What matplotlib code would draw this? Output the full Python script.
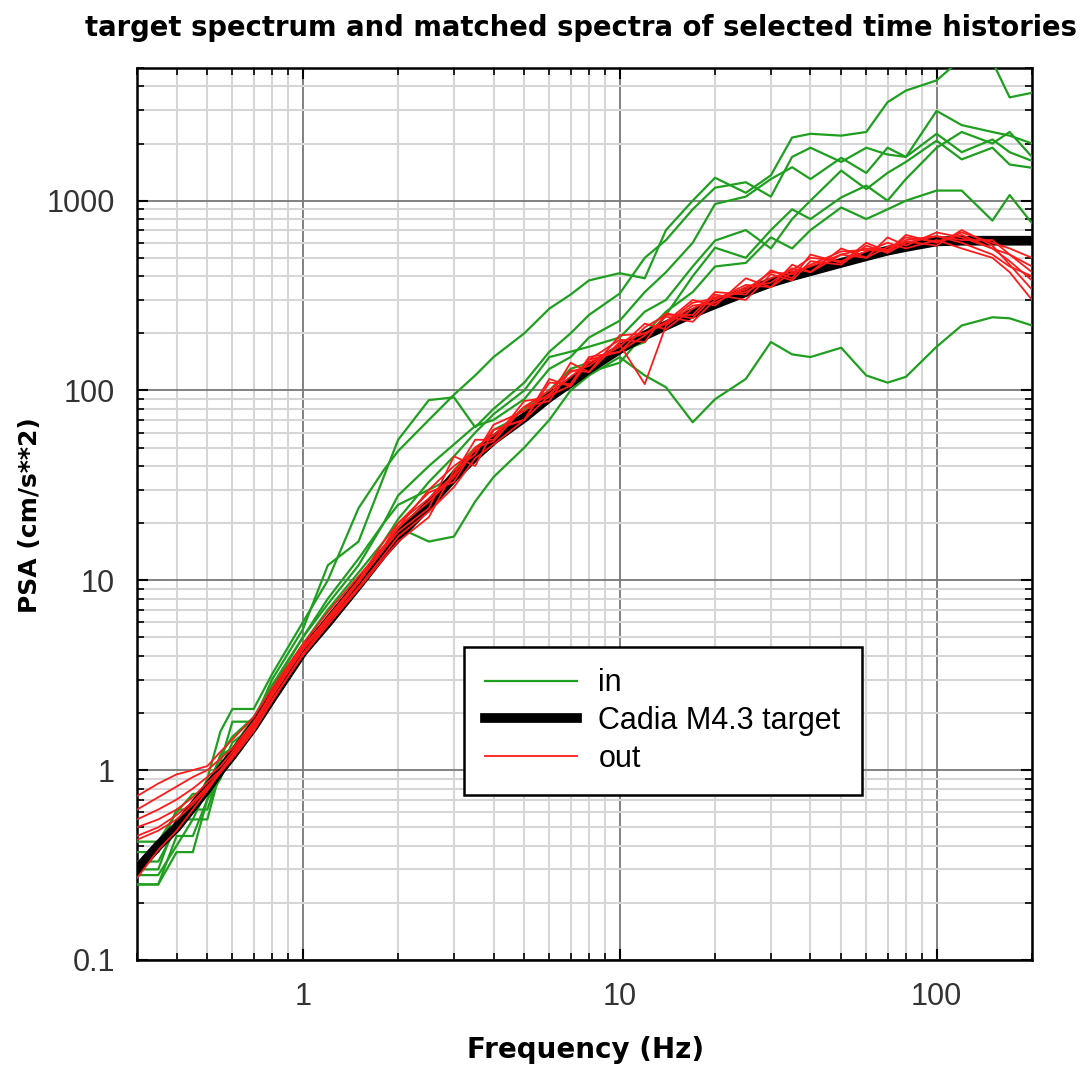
import matplotlib
matplotlib.use("Agg")
import matplotlib.pyplot as plt
from matplotlib.ticker import LogLocator, NullFormatter

# frequency points (Hz) shared by all spectra
freq = [0.3, 0.35, 0.4, 0.45, 0.5, 0.55, 0.6, 0.7, 0.8, 1.0, 1.2, 1.5, 1.8, 2.0, 2.5,
        3.0, 3.5, 4.0, 5.0, 6.0, 7.0, 8.0, 10, 12, 14, 17, 20, 25, 30, 35, 40, 50,
        60, 70, 80, 100, 120, 150, 170, 200]

# target spectrum
target = [0.30, 0.40, 0.50, 0.64, 0.80, 1.0, 1.2, 1.7, 2.4, 4.2, 6.0, 9.5, 14, 17, 25,
          35, 45, 55, 72, 92, 110, 130, 165, 195, 220, 255, 285, 330, 370, 400, 425, 470,
          510, 545, 570, 610, 615, 615, 615, 615]

# spectra of the input records
in1 = [0.37, 0.37, 0.62, 0.62, 0.9, 1.6, 2.1, 2.1, 3.2, 6.0, 10, 24, 38, 48, 70,
       95, 120, 150, 200, 270, 320, 380, 415, 390, 700, 1000, 1320, 1100, 1360, 2150, 2250, 2200,
       2300, 3300, 3800, 4300, 5600, 5400, 3500, 3700]
in2 = [0.25, 0.25, 0.45, 0.45, 0.7, 1.1, 1.8, 1.8, 3.0, 5.5, 12, 16, 35, 55, 89,
       92, 64, 80, 110, 160, 200, 250, 324, 500, 620, 900, 1170, 1250, 1050, 1700, 1900, 1600,
       1900, 1750, 1700, 2970, 2500, 2300, 2200, 2000]
in3 = [0.30, 0.30, 0.55, 0.55, 0.8, 1.2, 1.5, 1.9, 2.8, 5.0, 7.5, 12, 20, 28, 40,
       52, 65, 70, 90, 130, 150, 190, 233, 330, 420, 600, 960, 1050, 1300, 1500, 1300, 1680,
       1400, 1900, 1700, 2250, 1800, 2100, 1800, 1620]
in4 = [0.42, 0.42, 0.60, 0.75, 0.75, 1.2, 1.3, 1.9, 2.6, 4.6, 7.0, 11, 16, 21, 33,
       45, 60, 75, 100, 150, 160, 170, 190, 260, 300, 450, 616, 700, 560, 800, 1000, 1440,
       1150, 1400, 1600, 2070, 1650, 1900, 1550, 1490]
in5 = [0.33, 0.33, 0.50, 0.62, 0.62, 1.0, 1.4, 1.7, 2.4, 4.3, 6.5, 10, 14, 19, 26,
       38, 50, 58, 80, 100, 130, 140, 160, 180, 250, 400, 565, 500, 700, 900, 800, 1040,
       1200, 1000, 1300, 1900, 2300, 2000, 2300, 1700]
in6 = [0.28, 0.28, 0.40, 0.55, 0.55, 1.0, 1.2, 1.8, 2.7, 5.0, 8.0, 13, 20, 25, 30,
       35, 45, 62, 75, 90, 110, 125, 140, 200, 260, 330, 450, 470, 640, 560, 700, 920,
       800, 900, 1000, 1130, 1130, 785, 1070, 760]
in7 = [0.25, 0.25, 0.37, 0.37, 0.7, 0.9, 1.3, 1.6, 2.3, 4.0, 6.0, 9.5, 14, 19, 16,
       17, 26, 35, 50, 70, 100, 120, 150, 120, 104, 68, 90, 115, 180, 155, 150, 168,
       120, 110, 118, 170, 220, 243, 240, 220]

# spectra after matching
out1 = [0.73, 0.85, 0.95, 1.0, 1.05, 1.25, 1.45, 1.9, 2.7, 4.6, 6.8, 10.5, 15, 19, 30,
        40, 48, 62, 70, 110, 108, 150, 160, 215, 250, 250, 330, 320, 430, 390, 520, 470,
        600, 540, 660, 600, 680, 600, 560, 500]
out2 = [0.62, 0.72, 0.82, 0.92, 1.0, 1.15, 1.3, 1.8, 2.5, 4.4, 6.4, 10, 16, 20, 27,
        36, 55, 55, 88, 92, 140, 125, 195, 200, 230, 300, 280, 390, 350, 460, 420, 560,
        500, 640, 580, 680, 640, 560, 520, 420]
out3 = [0.55, 0.62, 0.70, 0.80, 0.92, 1.05, 1.25, 1.75, 2.6, 4.5, 6.2, 9.8, 14.5, 18, 24,
        45, 40, 62, 70, 115, 105, 145, 185, 180, 255, 240, 320, 300, 410, 380, 480, 460,
        580, 530, 600, 650, 620, 620, 520, 450]
out4 = [0.50, 0.55, 0.62, 0.72, 0.86, 1.0, 1.2, 1.7, 2.45, 4.3, 6.1, 9.7, 15, 20, 29,
        33, 50, 54, 82, 100, 125, 135, 175, 108, 220, 280, 290, 350, 370, 440, 420, 520,
        560, 550, 640, 610, 660, 560, 480, 380]
out5 = [0.45, 0.50, 0.58, 0.68, 0.82, 0.98, 1.18, 1.65, 2.35, 4.0, 5.8, 9.0, 13, 16, 21.5,
        38, 46, 66, 78, 96, 118, 140, 170, 225, 210, 270, 310, 330, 390, 430, 500, 480,
        540, 600, 560, 620, 560, 500, 420, 300]
out6 = [0.43, 0.48, 0.55, 0.66, 0.80, 0.97, 1.15, 1.6, 2.3, 4.1, 6.0, 9.2, 13.5, 17, 23,
        31, 44, 52, 70, 94, 106, 145, 160, 195, 245, 230, 300, 360, 350, 420, 450, 520,
        500, 570, 610, 580, 700, 580, 460, 340]
out7 = [0.27, 0.38, 0.48, 0.62, 0.78, 0.98, 1.2, 1.75, 2.5, 4.4, 6.3, 10, 14.5, 19, 26,
        35, 50, 58, 82, 88, 128, 125, 180, 200, 225, 290, 305, 340, 420, 410, 460, 540,
        550, 540, 620, 650, 600, 520, 450, 400]

inputs = [in1, in2, in3, in4, in5, in6, in7]
outputs = [out1, out2, out3, out4, out5, out6, out7]

fig = plt.figure(figsize=(10.9, 10.72), dpi=100)
ax = fig.add_axes([0.1257, 0.1045, 0.8211, 0.8321])

for i, s in enumerate(inputs):
    ax.plot(freq, s, color='#1f9f1f', lw=1.6, label='in' if i == 0 else None, zorder=3)
ax.plot(freq, target, color='black', lw=7, label='Cadia M4.3 target', zorder=4)
for i, s in enumerate(outputs):
    ax.plot(freq, s, color='#ff1a1a', lw=1.3, label='out' if i == 0 else None, zorder=5)

ax.set_xscale('log')
ax.set_yscale('log')
ax.set_xlim(0.3, 200)
ax.set_ylim(0.1, 5000)

ax.set_xticks([1, 10, 100])
ax.set_xticklabels(['1', '10', '100'])
ax.set_yticks([0.1, 1, 10, 100, 1000])
ax.set_yticklabels(['0.1', '1', '10', '100', '1000'])
ax.xaxis.set_minor_locator(LogLocator(base=10, subs=range(2, 10)))
ax.yaxis.set_minor_locator(LogLocator(base=10, subs=range(2, 10)))
ax.xaxis.set_minor_formatter(NullFormatter())
ax.yaxis.set_minor_formatter(NullFormatter())

ax.grid(which='major', color='#777777', lw=1.3)
ax.grid(which='minor', color='#d6d6d6', lw=1.5)
ax.set_axisbelow(True)

ax.tick_params(which='both', direction='in', top=True, right=True, colors='black')
ax.tick_params(which='major', length=8, width=1.5, pad=16, labelsize=22, labelcolor='#333333')
ax.tick_params(which='minor', length=5, width=1.2)
for lab in ax.get_xticklabels() + ax.get_yticklabels():
    lab.set_family('Liberation Sans')
for sp in ax.spines.values():
    sp.set_linewidth(1.8)

fig.text(0.533, 1 - 28 / 1072, 'target spectrum and matched spectra of selected time histories',
         ha='center', va='center', fontsize=19.8, fontweight='bold')
fig.text(0.537, 1 - 1050 / 1072, 'Frequency (Hz)', ha='center', va='center',
         fontsize=20, fontweight='bold')
fig.text(30 / 1090, 1 - 515 / 1072, 'PSA (cm/s**2)', ha='center', va='center',
         rotation=90, fontsize=18, fontweight='bold')

leg = ax.legend(loc='upper left', bbox_to_anchor=(0.3654, 0.3509), borderaxespad=0,
                fancybox=False, framealpha=1, edgecolor='black',
                prop={'family': 'Liberation Sans', 'size': 22},
                handlelength=3.0, handletextpad=0.7, labelspacing=0.25, borderpad=0.7)
leg.get_frame().set_linewidth(1.8)

fig.savefig('out.png', dpi=100)
